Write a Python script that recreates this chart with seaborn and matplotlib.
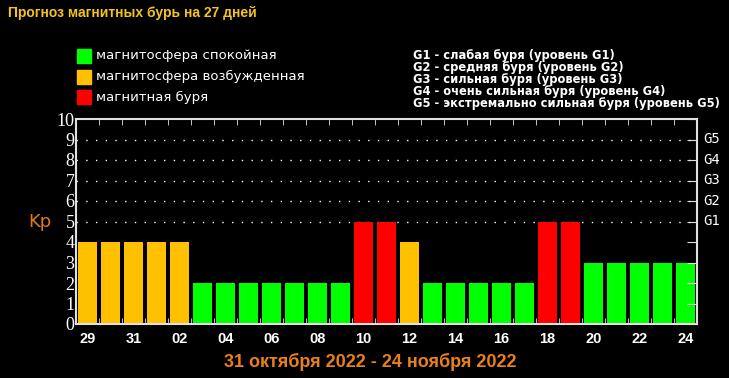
import matplotlib
matplotlib.use('Agg')
import matplotlib.pyplot as plt
import matplotlib.transforms as mtransforms
import pandas as pd
import seaborn as sns

days = ['29', '30', '31', '01', '02', '03', '04', '05', '06', '07', '08', '09', '10', '11',
        '12', '13', '14', '15', '16', '17', '18', '19', '20', '21', '22', '23', '24']
kp = [4, 4, 4, 4, 4, 2, 2, 2, 2, 2, 2, 2, 5, 5, 4, 2, 2, 2, 2, 2, 5, 5, 3, 3, 3, 3, 3]
status = ['active'] * 5 + ['quiet'] * 7 + ['storm'] * 2 + ['active'] + ['quiet'] * 5 + \
         ['storm'] * 2 + ['quiet'] * 5

legend_labels = ['магнитосфера спокойная', 'магнитосфера возбужденная', 'магнитная буря']
legend_keys = ['quiet', 'active', 'storm']
g_lines = ['G1 - слабая буря (уровень G1)',
           'G2 - средняя буря (уровень G2)',
           'G3 - сильная буря (уровень G3)',
           'G4 - очень сильная буря (уровень G4)',
           'G5 - экстремально сильная буря (уровень G5)']
g_levels = ['G1', 'G2', 'G3', 'G4', 'G5']
title = 'Прогноз магнитных бурь на 27 дней'
subtitle = '31 октября 2022 - 24 ноября 2022'

colors = {'quiet': '#00ff00', 'active': '#ffc000', 'storm': '#ff0000'}

dat = pd.DataFrame({'day': range(len(days)), 'kp': kp, 'status': status})

fig = plt.figure(figsize=(7.29, 3.78), dpi=100, facecolor='black')
ax = fig.add_axes([76 / 729, 1 - 324 / 378, 621 / 729, 205 / 378])
ax.set_facecolor('black')

sns.barplot(data=dat, x='day', y='kp', hue='status', palette=colors, dodge=False,
            legend=False, width=0.8, saturation=1, linewidth=0, ax=ax)

ax.set_xlim(-0.5, len(days) - 0.5)
ax.set_ylim(0, 10)
for y in range(5, 10):
    ax.axhline(y, color='white', lw=1, ls=(0, (1, 6)), zorder=0)

for s in ax.spines.values():
    s.set_color('#e0e0e0')
    s.set_linewidth(1.5)

# x labels every other day, ticks at bar boundaries
ax.set_xticks(range(0, len(days), 2))
ax.set_xticklabels(days[::2], color='white', fontsize=10.5, fontweight='bold',
                   family='Liberation Sans')
ax.set_xticks([i + 0.5 for i in range(len(days) - 1)], minor=True)
ax.tick_params(axis='x', which='major', length=0, pad=6)
ax.tick_params(axis='x', which='minor', direction='in', length=4, color='#e0e0e0',
               top=True, bottom=True)

ax.set_yticks(range(0, 11))
ax.set_yticklabels([str(i) for i in range(11)], color='white', fontsize=13,
                   family='Liberation Serif')
ax.tick_params(axis='y', which='major', left=False, right=True, direction='in',
               length=7, color='#e0e0e0', pad=1)
ax.set_xlabel('')
ax.set_ylabel('')

trans = mtransforms.blended_transform_factory(ax.transAxes, ax.transData)
for i, g in enumerate(g_levels):
    ax.text(1.01, 5 + i, g, transform=trans, color='white', fontsize=10,
            va='center', ha='left', family='DejaVu Sans Mono')

fig.text(28 / 729, 1 - 222 / 378, 'Kp', color='#e07a1f', fontsize=13, va='center',
         family='DejaVu Sans')

fig.text(8 / 729, 1 - 13 / 378, title, color='#f5c518', fontsize=10,
         fontweight='bold', va='center', family='Liberation Sans')

for i, (k, lab) in enumerate(zip(legend_keys, legend_labels)):
    yc = 56 + 20.5 * i
    fig.patches.append(plt.Rectangle((77 / 729, 1 - (yc + 7) / 378), 14 / 729, 14 / 378,
                                     transform=fig.transFigure, color=colors[k]))
    fig.text(96 / 729, 1 - yc / 378, lab, color='white', fontsize=9.5, va='center',
             family='DejaVu Sans')

for i, line in enumerate(g_lines):
    fig.text(413 / 729, 1 - (55 + 12 * i) / 378, line, color='white', fontsize=8.3,
             fontweight='bold', va='center', family='DejaVu Sans')

fig.text(370 / 729, 1 - 362 / 378, subtitle, color='#e8801c', fontsize=13,
         fontweight='bold', va='center', ha='center', family='Liberation Sans')

fig.savefig('out.png', dpi=100, facecolor='black')
